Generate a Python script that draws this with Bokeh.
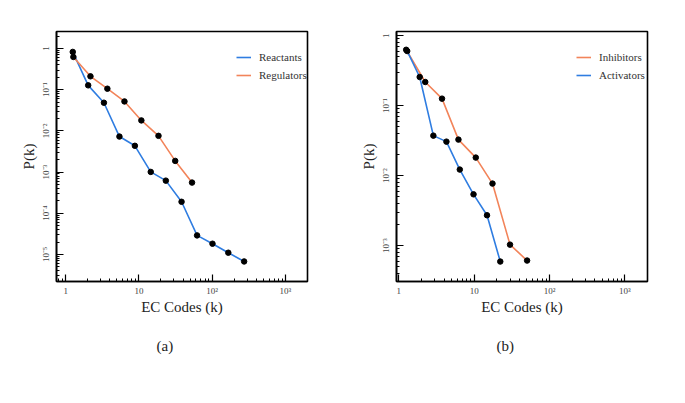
from bokeh.plotting import figure
from bokeh.layouts import row
from bokeh.models import FixedTicker, Legend, LegendItem, Title, Range1d
from bokeh.embed import file_html
from bokeh.resources import INLINE

# ---- data ----
reactants_k = [1.25, 2.03, 3.33, 5.42, 8.81, 14.5, 23.3, 38.2, 62.2, 101, 166, 273]
reactants_p = [0.83, 0.128, 0.0484, 0.0073, 0.00435, 1.01e-3, 6.2e-4, 1.9e-4, 2.9e-5, 1.82e-5, 1.1e-5, 6.75e-6]
regulators_k = [1.275, 2.18, 3.71, 6.35, 10.8, 18.5, 31.3, 53.1]
regulators_p = [0.627, 0.212, 0.106, 0.052, 0.018, 0.0076, 0.00187, 5.56e-4]

inhibitors_k = [1.25, 2.24, 3.74, 6.18, 10.5, 17.5, 29.9, 50.4]
inhibitors_p = [0.63, 0.218, 0.126, 0.0327, 0.0181, 0.00769, 1.03e-3, 6.1e-4]
activators_k = [1.29, 1.89, 2.87, 4.28, 6.44, 9.8, 14.8, 22.2]
activators_p = [0.604, 0.257, 0.0373, 0.0306, 0.0122, 0.0054, 0.00271, 5.9e-4]

x_ticks = [1, 10, 100, 1000]
x_tick_labels = ["1", "10", "10²", "10³"]
y_ticks_a = [1, 1e-1, 1e-2, 1e-3, 1e-4, 1e-5]
y_tick_labels_a = ["1", "10⁻¹", "10⁻²", "10⁻³", "10⁻⁴", "10⁻⁵"]
y_ticks_b = [1, 1e-1, 1e-2, 1e-3]
y_tick_labels_b = ["1", "10⁻¹", "10⁻²", "10⁻³"]

BLUE = "#2f7de1"
ORANGE = "#f2845a"
SERIF = "Liberation Serif"


def minors(lo_exp, hi_exp):
    out = []
    for e in range(lo_exp, hi_exp + 1):
        for m in range(2, 10):
            out.append(m * 10.0 ** e)
    return out


def make_panel(bl, br, xr, yr, yt, ytl, series, tag):
    p = figure(frame_width=251, frame_height=250, x_axis_type="log", y_axis_type="log",
               x_range=Range1d(*xr), y_range=Range1d(*yr),
               output_backend="svg", toolbar_location=None,
               min_border_left=bl, min_border_right=br,
               min_border_top=31, min_border_bottom=80)
    p.grid.visible = False
    p.background_fill_color = "white"
    p.border_fill_color = "white"
    p.outline_line_color = "black"
    p.outline_line_width = 1.6

    p.xaxis.ticker = FixedTicker(ticks=x_ticks, minor_ticks=minors(-1, 3))
    p.xaxis.major_label_overrides = dict(zip(x_ticks, x_tick_labels))
    p.yaxis.ticker = FixedTicker(ticks=yt, minor_ticks=minors(-7, 0))
    p.yaxis.major_label_overrides = dict(zip(yt, ytl))
    p.yaxis.major_label_orientation = "vertical"

    for ax in (p.xaxis, p.yaxis):
        ax.axis_line_color = "black"
        ax.axis_line_width = 1.6
        ax.major_tick_in = 7
        ax.major_tick_out = 0
        ax.minor_tick_in = 3
        ax.minor_tick_out = 0
        ax.major_tick_line_color = "black"
        ax.minor_tick_line_color = "black"
        ax.major_tick_line_width = 1.2
        ax.minor_tick_line_width = 1.0
        ax.major_label_text_font = SERIF
        ax.major_label_text_font_size = "9px"
        ax.major_label_text_color = "#444444"
        ax.axis_label_text_font = SERIF
        ax.axis_label_text_font_size = "15px"
        ax.axis_label_text_font_style = "normal"
        ax.axis_label_text_color = "#222222"

    p.xaxis.axis_label = "EC Codes (k)"
    p.yaxis.axis_label = "P(k)"
    p.xaxis.major_label_standoff = 4
    p.yaxis.major_label_standoff = 5
    p.xaxis.axis_label_standoff = 0
    p.yaxis.axis_label_standoff = 2

    items = []
    for name, xs, ys, col in series:
        ln = p.line(xs, ys, line_color=col, line_width=1.6)
        p.scatter(xs, ys, size=5.5, fill_color="black", line_color="black")
        items.append(LegendItem(label=name, renderers=[ln]))

    leg = Legend(items=items, location=(180, 200))
    leg.border_line_color = None
    leg.background_fill_alpha = 0
    leg.label_text_font = SERIF
    leg.label_text_font_size = "11px"
    leg.label_text_color = "#333333"
    leg.glyph_width = 15
    leg.glyph_height = 12
    leg.label_height = 12
    leg.spacing = 6
    leg.label_standoff = 8
    leg.padding = 0
    p.add_layout(leg, "center")

    t = Title(text=tag, align="left", text_font=SERIF, text_font_size="15px",
              text_font_style="normal", text_color="#222222", standoff=36, offset=100)
    p.add_layout(t, "below")
    return p


pa = make_panel(56, 28, (0.75, 2000), (2.2e-6, 2.6), y_ticks_a, y_tick_labels_a,
                [("Reactants", reactants_k, reactants_p, BLUE),
                 ("Regulators", regulators_k, regulators_p, ORANGE)], "(a)")
pb = make_panel(61, 16, (0.93, 2000), (3.06e-4, 1.15), y_ticks_b, y_tick_labels_b,
                [("Inhibitors", inhibitors_k, inhibitors_p, ORANGE),
                 ("Activators", activators_k, activators_p, BLUE)], "(b)")

layout = row(pa, pb)
open("out.html", "w").write(file_html(layout, INLINE))
